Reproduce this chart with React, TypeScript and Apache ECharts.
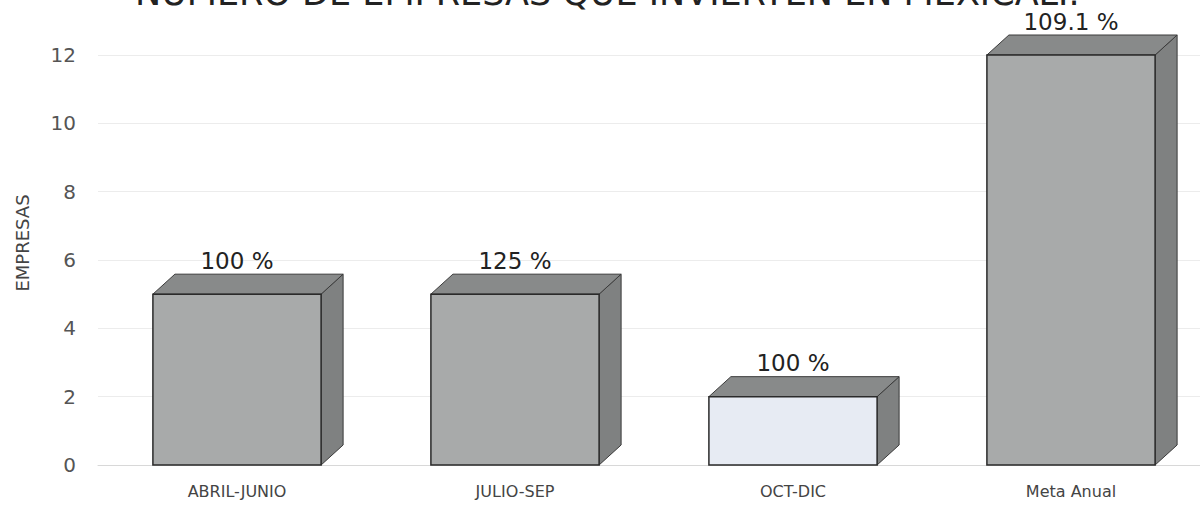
import React, { useEffect, useRef } from "react";
import * as echarts from "echarts";

const categories = ["ABRIL-JUNIO", "JULIO-SEP", "OCT-DIC", "Meta Anual"];
const values = [5, 5, 2, 12];
const percentLabels = ["100 %", "125 %", "100 %", "109.1 %"];
const frontColors = ["#a8aaaa", "#a8aaaa", "#e7ebf3", "#a8aaaa"];
const yTicks = [0, 2, 4, 6, 8, 10, 12];

const DX = 22;
const DY = 20;

export default function App() {
  const ref = useRef<HTMLDivElement>(null);
  useEffect(() => {
    if (!ref.current) return;
    const chart = echarts.init(ref.current, null, { renderer: "svg" });
    const data = values.map((v, i) => [i, v]);
    chart.setOption({
      animation: false,
      backgroundColor: "#ffffff",
      title: {
        text: "NÚMERO DE EMPRESAS QUE INVIERTEN EN MEXICALI.",
        left: 130,
        top: -30,
        textStyle: {
          fontFamily: "DejaVu Sans",
          fontSize: 35,
          fontWeight: "normal",
          color: "#222",
        },
      },
      graphic: [
        {
          type: "text",
          x: 22,
          y: 243,
          rotation: Math.PI / 2,
          style: {
            text: "EMPRESAS",
            align: "center",
            verticalAlign: "middle",
            fontFamily: "DejaVu Sans",
            fontSize: 18,
            fill: "#444",
          },
        },
      ],
      grid: { left: 98, right: 2, top: 55, bottom: 40 },
      xAxis: {
        type: "category",
        data: categories,
        axisLine: { show: true, lineStyle: { color: "#d8d8d8" } },
        axisTick: { show: false },
        axisLabel: {
          margin: 18,
          fontFamily: "DejaVu Sans",
          fontSize: 16,
          color: "#444",
        },
        splitLine: { show: false },
      },
      yAxis: {
        type: "value",
        min: yTicks[0],
        max: yTicks[yTicks.length - 1],
        interval: 2,
        axisLine: { show: false },
        axisTick: { show: false },
        axisLabel: {
          margin: 22,
          fontFamily: "DejaVu Sans",
          fontSize: 20,
          color: "#555",
        },
        splitLine: { show: true, lineStyle: { color: "#ececec" } },
      },
      series: [
        {
          type: "custom",
          data,
          renderItem: (params: any, api: any) => {
            const idx = api.value(0);
            const val = api.value(1);
            const top = api.coord([idx, val]);
            const base = api.coord([idx, 0]);
            const band = api.size([1, 0])[0];
            const w = band * 0.605;
            const x0 = top[0] - w / 2;
            const x1 = top[0] + w / 2;
            const yT = top[1];
            const yB = base[1];
            const stroke = "#2a2a2a";
            return {
              type: "group",
              children: [
                {
                  type: "polygon",
                  shape: {
                    points: [
                      [x1, yT],
                      [x1 + DX, yT - DY],
                      [x1 + DX, yB - DY],
                      [x1, yB],
                    ],
                  },
                  style: { fill: "#7f8181", stroke: "#3a3a3a", lineWidth: 1 },
                },
                {
                  type: "polygon",
                  shape: {
                    points: [
                      [x0, yT],
                      [x0 + DX, yT - DY],
                      [x1 + DX, yT - DY],
                      [x1, yT],
                    ],
                  },
                  style: { fill: "#888a8a", stroke: "#3a3a3a", lineWidth: 1 },
                },
                {
                  type: "rect",
                  shape: { x: x0, y: yT, width: w, height: yB - yT },
                  style: {
                    fill: frontColors[params.dataIndex],
                    stroke,
                    lineWidth: 1.5,
                  },
                },
                {
                  type: "text",
                  style: {
                    text: percentLabels[params.dataIndex],
                    x: top[0],
                    y: yT - DY - 2,
                    align: "center",
                    verticalAlign: "bottom",
                    fontFamily: "DejaVu Sans",
                    fontSize: 23,
                    fill: "#222",
                  },
                },
              ],
            };
          },
        },
      ],
    });
    return () => chart.dispose();
  }, []);
  return (
    <div
      ref={ref}
      style={{ position: "fixed", left: 0, top: 0, width: 1212, height: 505 }}
    />
  );
}
